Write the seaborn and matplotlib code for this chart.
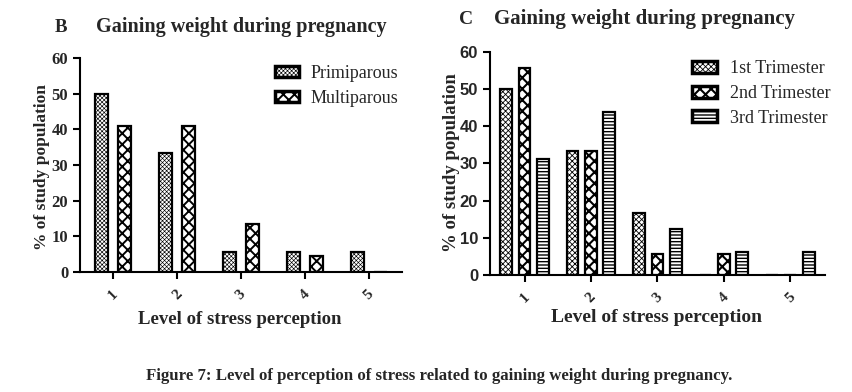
import seaborn as sns
import matplotlib.pyplot as plt
import pandas as pd

# data
levels = ['1', '2', '3', '4', '5']
primiparous = [50.0, 33.3, 5.6, 5.6, 5.6]
multiparous = [40.9, 40.9, 13.6, 4.5, 0.0]
trim1 = [50.0, 33.3, 16.7, 0.0, 0.0]
trim2 = [55.6, 33.3, 5.6, 5.6, 0.0]
trim3 = [31.25, 43.75, 12.5, 6.25, 6.25]

df_b = pd.DataFrame({
    'Level': levels * 2,
    'Value': primiparous + multiparous,
    'Group': ['Primiparous'] * 5 + ['Multiparous'] * 5,
})
df_c = pd.DataFrame({
    'Level': levels * 3,
    'Value': trim1 + trim2 + trim3,
    'Group': ['1st Trimester'] * 5 + ['2nd Trimester'] * 5 + ['3rd Trimester'] * 5,
})

sns.set_theme(style="white")
plt.rcParams['font.family'] = ['Liberation Serif', 'DejaVu Serif']
plt.rcParams['hatch.linewidth'] = 1.0
plt.rcParams['hatch.color'] = 'black'

fig = plt.figure(figsize=(8.53, 3.92), dpi=100)
axB = fig.add_axes([0.0938, 0.306, 0.3775, 0.546])
axC = fig.add_axes([0.5744, 0.2985, 0.3927, 0.5689])

sns.barplot(data=df_b, x='Level', y='Value', hue='Group', order=levels,
            palette=['white', 'white'], width=0.72, gap=0.42,
            edgecolor='black', linewidth=1.6, ax=axB, legend=False)
sns.barplot(data=df_c, x='Level', y='Value', hue='Group', order=levels,
            palette=['white', 'white', 'white'], width=0.83, gap=0.36,
            edgecolor='black', linewidth=1.6, ax=axC, legend=False)

# (hatch, hatch line width) per series
styles_b = [('xxxxxxxx', 0.45), ('xxx', 1.4)]
styles_c = [('xxxxxx', 0.6), ('xxx', 1.5), ('-----', 1.0)]


def apply_style(p, h, lw):
    p.set_hatch(h)
    if hasattr(p, 'set_hatch_linewidth'):
        p.set_hatch_linewidth(lw)


for ax, styles in [(axB, styles_b), (axC, styles_c)]:
    for cont, (h, lw) in zip(ax.containers, styles):
        for p in cont:
            apply_style(p, h, lw)

for ax in [axB, axC]:
    ax.set_ylim(0, 60)
    ax.set_xlim(-0.52, 4.52)
    ax.set_yticks([0, 10, 20, 30, 40, 50, 60])
    ax.set_xlabel('')
    ax.set_ylabel('')
    for s in ['top', 'right']:
        ax.spines[s].set_visible(False)
    for s in ['left', 'bottom']:
        ax.spines[s].set_linewidth(1.5)
        ax.spines[s].set_color('black')
    ax.tick_params(axis='both', direction='out', length=5, width=1.5,
                   color='black', left=True, bottom=True)
    ax.tick_params(axis='x', pad=6)
    for lab in ax.get_xticklabels():
        lab.set_rotation(45)
        lab.set_fontweight('bold')
        lab.set_fontsize(11)
        lab.set_ha('center')

for lab in axB.get_yticklabels():
    lab.set_fontweight('bold')
    lab.set_fontsize(12)
for lab in axC.get_yticklabels():
    lab.set_family('Liberation Sans')
    lab.set_fontweight('bold')
    lab.set_fontsize(12)

legB = axB.legend(axB.containers, ['Primiparous', 'Multiparous'], frameon=False,
                  loc='upper left', bbox_to_anchor=(0.606, 0.966), fontsize=13,
                  borderpad=0, borderaxespad=0,
                  handlelength=1.3, handleheight=0.55, handletextpad=0.65,
                  labelspacing=0.42)
legC = axC.legend(axC.containers, ['1st Trimester', '2nd Trimester', '3rd Trimester'],
                  frameon=False, loc='upper left', bbox_to_anchor=(0.603, 0.962),
                  fontsize=13, borderpad=0, borderaxespad=0,
                  handlelength=1.4, handleheight=0.65, handletextpad=0.7,
                  labelspacing=0.42)
for leg, styles in [(legB, styles_b), (legC, styles_c)]:
    for hnd, (h, lw) in zip(leg.legend_handles, styles):
        apply_style(hnd, h, lw)
        hnd.set_linewidth(2.5)

H = 392.0
W = 853.0
def fx(x):
    return x / W
def fy(y):
    return 1 - y / H

fig.text(fx(55), fy(27), 'B', fontsize=13.5, fontweight='bold', va='center', ha='left')
fig.text(fx(241), fy(27), 'Gaining weight during pregnancy', fontsize=14.5,
         fontweight='bold', ha='center', va='center')
fig.text(fx(459), fy(20), 'C', fontsize=14, fontweight='bold', va='center', ha='left')
fig.text(fx(644), fy(19), 'Gaining weight during pregnancy', fontsize=15,
         fontweight='bold', ha='center', va='center')

fig.text(fx(42), fy(167), '% of study population', fontsize=12.5, fontweight='bold',
         rotation=90, ha='center', va='center')
fig.text(fx(452), fy(163), '% of study population', fontsize=13.5, fontweight='bold',
         rotation=90, ha='center', va='center')
fig.text(fx(240), fy(320), 'Level of stress perception', fontsize=13.5,
         fontweight='bold', ha='center', va='center')
fig.text(fx(657), fy(317), 'Level of stress perception', fontsize=14,
         fontweight='bold', ha='center', va='center')

fig.text(fx(439), fy(376), 'Figure 7: Level of perception of stress related to gaining weight during pregnancy.',
         fontsize=12.1, fontweight='bold', ha='center', va='center')

fig.savefig('out.png', dpi=100)
